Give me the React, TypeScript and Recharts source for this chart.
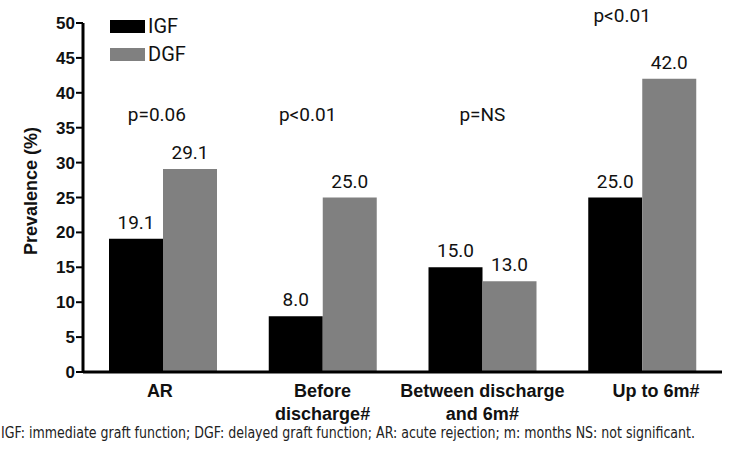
import React from 'react';
import { BarChart, Bar, XAxis, YAxis, LabelList, ReferenceDot } from 'recharts';

const categories = ['AR', 'Before\ndischarge#', 'Between discharge\nand 6m#', 'Up to 6m#'];
const igfValues = [19.1, 8.0, 15.0, 25.0];
const dgfValues = [29.1, 25.0, 13.0, 42.0];
const pLabels = ['p=0.06', 'p<0.01', 'p=NS', 'p<0.01'];
const pLevels = [36, 36, 36, 50.2];
const yTicks = [0, 5, 10, 15, 20, 25, 30, 35, 40, 45, 50];
const seriesNames = ['IGF', 'DGF'];
const seriesColors = ['#000000', '#808080'];
const footnote = 'IGF: immediate graft function; DGF: delayed graft function; AR: acute rejection; m: months NS: not significant.';
const yLabel = 'Prevalence (%)';

const data = categories.map((c, i) => ({ cat: c, IGF: igfValues[i], DGF: dgfValues[i] }));

const AXIS_FONT = '"Liberation Sans", Arial, sans-serif';
const TEXT_FONT = 'Roboto, "Liberation Sans", sans-serif';

const tickShift = [-3, 0, 0, 14];
const pShift = [-6, -15, 0, -20];

const XTick = (props: any) => {
  const { x, y, payload, index } = props;
  const lines = String(payload.value).split('\n');
  const cx = x + (tickShift[index] || 0);
  return (
    <text x={cx} y={y} textAnchor="middle" fontFamily={AXIS_FONT} fontWeight="bold" fontSize={18} fill="#111">
      {lines.map((l, i) => (
        <tspan key={i} x={cx} y={y + 25 + i * 23}>{l}</tspan>
      ))}
    </text>
  );
};

const YTick = (props: any) => {
  const { x, y, payload } = props;
  return (
    <text x={x} y={y} dy={6} textAnchor="end" fontFamily={AXIS_FONT} fontWeight="bold" fontSize={17} fill="#111">
      {payload.value}
    </text>
  );
};

const ValueLabel = (props: any) => {
  const { x, y, width, value } = props;
  return (
    <text x={x + width / 2} y={y - 10} textAnchor="middle" fontFamily={TEXT_FONT} fontSize={19} fill="#111">
      {Number(value).toFixed(1)}
    </text>
  );
};

export default function App() {
  return (
    <div style={{ position: 'absolute', left: 0, top: 0, width: 750, height: 454, background: '#fff' }}>
      <BarChart
        width={750}
        height={454}
        data={data}
        margin={{ top: 23, right: 28, left: 0, bottom: 0 }}
        barGap={0}
      >
        <XAxis
          dataKey="cat"
          interval={0}
          tickLine={false}
          tickSize={0}
          tickMargin={0}
          height={82}
          axisLine={{ stroke: '#000', strokeWidth: 3 }}
          tick={<XTick />}
        />
        <YAxis
          domain={[0, 50]}
          ticks={yTicks}
          width={83}
          tickSize={7}
          tickMargin={1}
          interval={0}
          axisLine={{ stroke: '#000', strokeWidth: 3 }}
          tickLine={{ stroke: '#000', strokeWidth: 2 }}
          tick={<YTick />}
          allowDataOverflow
        />
        <Bar dataKey="IGF" fill={seriesColors[0]} barSize={54} isAnimationActive={false}>
          <LabelList dataKey="IGF" content={<ValueLabel />} />
        </Bar>
        <Bar dataKey="DGF" fill={seriesColors[1]} barSize={54} isAnimationActive={false}>
          <LabelList dataKey="DGF" content={<ValueLabel />} />
        </Bar>
        {categories.map((c, i) => (
          <ReferenceDot
            key={'p' + i}
            x={c}
            y={pLevels[i]}
            r={0}
            ifOverflow="visible"
            shape={(p: any) => (
              <text x={p.cx + pShift[i]} y={p.cy} textAnchor="middle" fontFamily={TEXT_FONT} fontSize={19} fill="#111">
                {pLabels[i]}
              </text>
            )}
          />
        ))}
      </BarChart>
      <div style={{ position: 'absolute', left: 110, top: 12, fontFamily: TEXT_FONT, fontSize: 20, color: '#111', lineHeight: '28px' }}>
        {seriesNames.map((n, i) => (
          <div key={n} style={{ display: 'flex', alignItems: 'center', height: 28 }}>
            <div style={{ width: 35, height: 13, background: seriesColors[i], marginRight: 3 }} />
            <span>{n}</span>
          </div>
        ))}
      </div>
      <svg width={750} height={454} style={{ position: 'absolute', left: 0, top: 0, pointerEvents: 'none' }}>
        <text
          x={31}
          y={191}
          transform="rotate(-90 31 191)"
          textAnchor="middle"
          dominantBaseline="central"
          fontFamily={AXIS_FONT}
          fontWeight="bold"
          fontSize={18}
          fill="#111"
        >
          {yLabel}
        </text>
        <text
          x={1}
          y={438}
          fontFamily={'"Liberation Sans Narrow", "DejaVu Sans Condensed", Roboto, sans-serif'}
          fontSize={15}
          fill="#222"
          textLength={694}
          lengthAdjust="spacingAndGlyphs"
        >
          {footnote}
        </text>
      </svg>
    </div>
  );
}
